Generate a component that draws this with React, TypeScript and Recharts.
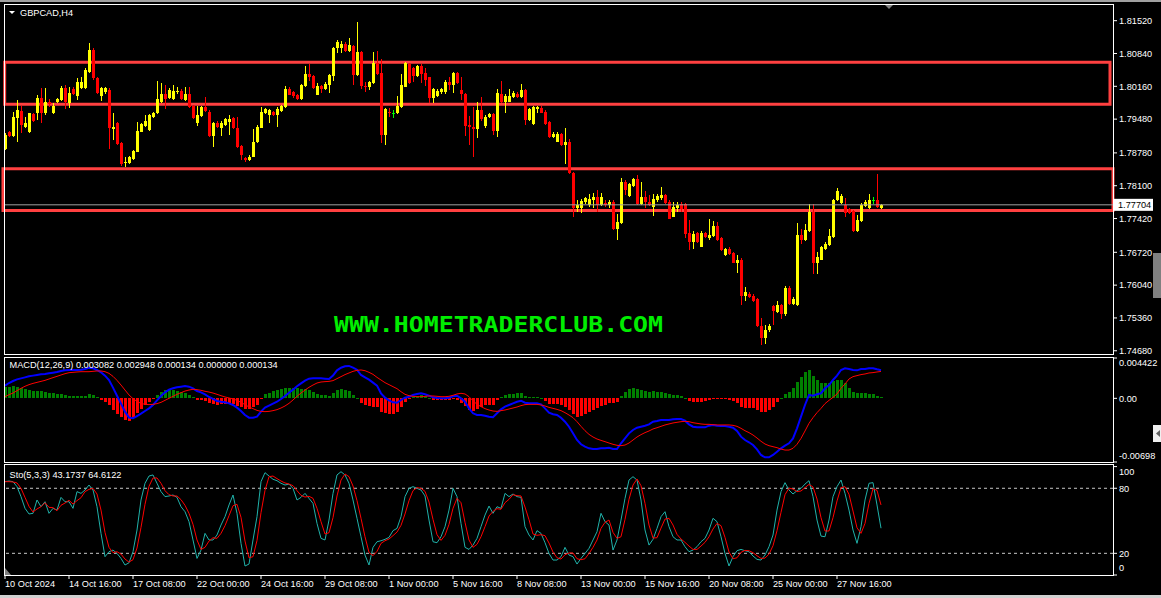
import React from 'react';
import { ComposedChart, Bar, Line, XAxis, YAxis, ReferenceLine, ReferenceArea } from 'recharts';

const W = 1161;
const FONT = "'Liberation Sans', Arial, sans-serif";

// GBPCAD H4 candles, one row = 10 bars
const openPrices = [
  1.7887, 1.7922, 1.7912, 1.7950, 1.7965, 1.7932, 1.7921, 1.7958, 1.7960, 1.7992,
  1.7960, 1.7984, 1.7960, 1.7983, 1.7988, 1.8013, 1.7981, 1.8010, 1.7995, 1.8012,
  1.8012, 1.8046, 1.8091, 1.8033, 1.7995, 1.8005, 1.8008, 1.7927, 1.7941, 1.7899,
  1.7858, 1.7858, 1.7865, 1.7880, 1.7922, 1.7934, 1.7925, 1.7952, 1.7960, 1.7984,
  1.8000, 1.7991, 1.7990, 1.8004, 1.8007, 1.7988, 1.8001, 1.7975, 1.7939, 1.7955,
  1.7974, 1.7963, 1.7912, 1.7941, 1.7930, 1.7936, 1.7943, 1.7950, 1.7929, 1.7893,
  1.7868, 1.7863, 1.7870, 1.7901, 1.7930, 1.7960, 1.7957, 1.7962, 1.7957, 1.7965,
  1.7974, 1.8010, 1.8004, 1.7999, 1.7990, 1.8017, 1.8042, 1.8037, 1.7998, 1.8017,
  1.8010, 1.8019, 1.8037, 1.8095, 1.8096, 1.8103, 1.8090, 1.8100, 1.8039, 1.8088,
  1.8017, 1.8014, 1.8022, 1.8064, 1.8044, 1.7915, 1.7963, 1.7960, 1.7960, 1.7974,
  1.8015, 1.8062, 1.8053, 1.8037, 1.8058, 1.8044, 1.8035, 1.7991, 1.7995, 1.8004,
  1.8004, 1.8024, 1.8019, 1.8043, 1.8008, 1.8001, 1.7936, 1.7932, 1.7927, 1.7967,
  1.7934, 1.7952, 1.7959, 1.7924, 1.8001, 1.7984, 1.7984, 1.7993, 1.8001, 1.7993,
  1.8008, 1.7946, 1.7938, 1.7970, 1.7972, 1.7963, 1.7943, 1.7910, 1.7901, 1.7917,
  1.7894, 1.7901, 1.7836, 1.7763, 1.7763, 1.7777, 1.7770, 1.7780, 1.7787, 1.7770,
  1.7775, 1.7770, 1.7777, 1.7720, 1.7732, 1.7818, 1.7789, 1.7809, 1.7823, 1.7773,
  1.7787, 1.7777, 1.7766, 1.7780, 1.7784, 1.7791, 1.7777, 1.7746, 1.7763, 1.7773,
  1.7773, 1.7711, 1.7694, 1.7711, 1.7684, 1.7713, 1.7701, 1.7706, 1.7727, 1.7701,
  1.7666, 1.7678, 1.7670, 1.7649, 1.7656, 1.7582, 1.7586, 1.7582, 1.7575, 1.7520,
  1.7494, 1.7511, 1.7561, 1.7549, 1.7563, 1.7545, 1.7599, 1.7565, 1.7562, 1.7708,
  1.7697, 1.7717, 1.7756, 1.7650, 1.7657, 1.7678, 1.7687, 1.7703, 1.7780, 1.7775,
  1.7770, 1.7761, 1.7758, 1.7717, 1.7737, 1.7768, 1.7763, 1.7780, 1.7780, 1.7764,
];

const highPrices = [
  1.7919, 1.7923, 1.7963, 1.7988, 1.7975, 1.7953, 1.7961, 1.7960, 1.7998, 1.8012,
  1.8012, 1.7990, 1.7981, 1.7991, 1.8017, 1.8019, 1.8014, 1.8014, 1.8033, 1.8035,
  1.8053, 1.8105, 1.8095, 1.8035, 1.8014, 1.8014, 1.8012, 1.7960, 1.7943, 1.7901,
  1.7870, 1.7872, 1.7884, 1.7943, 1.7941, 1.7957, 1.7958, 1.7963, 1.8026, 1.8022,
  1.8019, 1.8012, 1.8019, 1.8014, 1.8010, 1.8014, 1.8014, 1.7977, 1.7975, 1.7975,
  1.7993, 1.7966, 1.7943, 1.7945, 1.7944, 1.7950, 1.7957, 1.7953, 1.7953, 1.7894,
  1.7870, 1.7874, 1.7927, 1.7936, 1.7974, 1.7972, 1.7970, 1.7965, 1.7974, 1.7977,
  1.8017, 1.8014, 1.8007, 1.8001, 1.8021, 1.8058, 1.8062, 1.8039, 1.8022, 1.8019,
  1.8024, 1.8042, 1.8098, 1.8111, 1.8109, 1.8107, 1.8117, 1.8102, 1.8150, 1.8090,
  1.8024, 1.8026, 1.8088, 1.8090, 1.8072, 1.7972, 1.7972, 1.7967, 1.7996, 1.8042,
  1.8067, 1.8064, 1.8057, 1.8060, 1.8062, 1.8053, 1.8036, 1.8012, 1.8010, 1.8012,
  1.8029, 1.8035, 1.8046, 1.8046, 1.8036, 1.8003, 1.7954, 1.7974, 1.7984, 1.7993,
  1.7957, 1.7961, 1.7961, 1.8010, 1.8028, 1.8000, 1.8010, 1.8007, 1.8005, 1.8021,
  1.8010, 1.7972, 1.7975, 1.7976, 1.7975, 1.7966, 1.7945, 1.7922, 1.7922, 1.7920,
  1.7929, 1.7906, 1.7839, 1.7780, 1.7782, 1.7787, 1.7792, 1.7795, 1.7802, 1.7795,
  1.7780, 1.7780, 1.7780, 1.7751, 1.7825, 1.7822, 1.7816, 1.7825, 1.7832, 1.7817,
  1.7799, 1.7791, 1.7793, 1.7793, 1.7808, 1.7793, 1.7780, 1.7777, 1.7777, 1.7777,
  1.7775, 1.7739, 1.7717, 1.7715, 1.7717, 1.7715, 1.7742, 1.7736, 1.7734, 1.7703,
  1.7680, 1.7682, 1.7672, 1.7666, 1.7660, 1.7601, 1.7590, 1.7585, 1.7578, 1.7535,
  1.7521, 1.7523, 1.7563, 1.7572, 1.7565, 1.7602, 1.7602, 1.7580, 1.7733, 1.7720,
  1.7730, 1.7773, 1.7772, 1.7673, 1.7685, 1.7694, 1.7720, 1.7782, 1.7805, 1.7793,
  1.7784, 1.7763, 1.7760, 1.7749, 1.7775, 1.7780, 1.7793, 1.7787, 1.7834, 1.7772,
];

const lowPrices = [
  1.7885, 1.7910, 1.7910, 1.7901, 1.7919, 1.7929, 1.7919, 1.7943, 1.7946, 1.7939,
  1.7957, 1.7974, 1.7959, 1.7981, 1.7986, 1.7970, 1.7972, 1.7998, 1.7988, 1.8010,
  1.8010, 1.8044, 1.8030, 1.8001, 1.7986, 1.8001, 1.7886, 1.7905, 1.7894, 1.7851,
  1.7849, 1.7856, 1.7863, 1.7879, 1.7921, 1.7932, 1.7924, 1.7950, 1.7959, 1.7982,
  1.7970, 1.7989, 1.7988, 1.8001, 1.7988, 1.7986, 1.7972, 1.7949, 1.7934, 1.7953,
  1.7963, 1.7910, 1.7891, 1.7930, 1.7912, 1.7934, 1.7915, 1.7927, 1.7889, 1.7863,
  1.7860, 1.7861, 1.7869, 1.7899, 1.7929, 1.7958, 1.7939, 1.7954, 1.7932, 1.7963,
  1.7972, 1.7998, 1.7992, 1.7988, 1.7988, 1.8014, 1.8026, 1.8010, 1.7997, 1.8003,
  1.8008, 1.8003, 1.8028, 1.8084, 1.8084, 1.8088, 1.8088, 1.8019, 1.8037, 1.8010,
  1.8005, 1.8008, 1.8020, 1.8039, 1.7898, 1.7894, 1.7953, 1.7950, 1.7959, 1.7972,
  1.8014, 1.8021, 1.8024, 1.8036, 1.8022, 1.8017, 1.7982, 1.7982, 1.7993, 1.8001,
  1.8001, 1.8008, 1.8003, 1.8021, 1.7988, 1.7912, 1.7894, 1.7869, 1.7908, 1.7945,
  1.7929, 1.7950, 1.7915, 1.7910, 1.7982, 1.7960, 1.7983, 1.7991, 1.7991, 1.7991,
  1.7936, 1.7945, 1.7936, 1.7960, 1.7960, 1.7936, 1.7908, 1.7908, 1.7900, 1.7893,
  1.7855, 1.7834, 1.7746, 1.7756, 1.7753, 1.7773, 1.7766, 1.7763, 1.7756, 1.7768,
  1.7766, 1.7763, 1.7718, 1.7697, 1.7731, 1.7791, 1.7787, 1.7808, 1.7770, 1.7770,
  1.7763, 1.7768, 1.7748, 1.7777, 1.7780, 1.7772, 1.7740, 1.7745, 1.7756, 1.7756,
  1.7701, 1.7677, 1.7678, 1.7692, 1.7682, 1.7701, 1.7697, 1.7703, 1.7696, 1.7675,
  1.7665, 1.7666, 1.7649, 1.7630, 1.7563, 1.7572, 1.7577, 1.7570, 1.7518, 1.7480,
  1.7482, 1.7507, 1.7521, 1.7547, 1.7533, 1.7540, 1.7563, 1.7563, 1.7560, 1.7689,
  1.7696, 1.7715, 1.7628, 1.7628, 1.7656, 1.7677, 1.7685, 1.7701, 1.7779, 1.7773,
  1.7746, 1.7751, 1.7715, 1.7715, 1.7735, 1.7766, 1.7761, 1.7773, 1.7763, 1.7762,
];

const closePrices = [
  1.7915, 1.7912, 1.7953, 1.7967, 1.7936, 1.7939, 1.7960, 1.7944, 1.7992, 1.7960,
  1.7984, 1.7979, 1.7975, 1.7990, 1.8013, 1.7984, 1.8003, 1.8001, 1.8024, 1.8024,
  1.8050, 1.8091, 1.8033, 1.8003, 1.8012, 1.8012, 1.7929, 1.7932, 1.7896, 1.7856,
  1.7860, 1.7870, 1.7882, 1.7923, 1.7938, 1.7944, 1.7957, 1.7961, 1.7989, 1.8000,
  1.7990, 1.8008, 1.8007, 1.8007, 1.7990, 1.8001, 1.7974, 1.7951, 1.7957, 1.7974,
  1.7965, 1.7912, 1.7939, 1.7932, 1.7939, 1.7948, 1.7949, 1.7929, 1.7891, 1.7874,
  1.7863, 1.7870, 1.7901, 1.7932, 1.7963, 1.7970, 1.7967, 1.7957, 1.7970, 1.7975,
  1.8010, 1.7999, 1.7995, 1.7990, 1.8019, 1.8042, 1.8035, 1.8012, 1.8017, 1.8010,
  1.8021, 1.8039, 1.8095, 1.8107, 1.8103, 1.8090, 1.8102, 1.8039, 1.8088, 1.8017,
  1.8015, 1.8024, 1.8064, 1.8042, 1.7915, 1.7968, 1.7960, 1.7960, 1.7975, 1.8019,
  1.8065, 1.8022, 1.8037, 1.8058, 1.8042, 1.8029, 1.7991, 1.8010, 1.8007, 1.8010,
  1.8024, 1.8019, 1.8043, 1.8022, 1.8000, 1.7934, 1.7932, 1.7927, 1.7967, 1.7948,
  1.7953, 1.7959, 1.7924, 1.8003, 1.7984, 1.7995, 1.7996, 1.8003, 1.7993, 1.8008,
  1.7946, 1.7968, 1.7974, 1.7974, 1.7961, 1.7938, 1.7910, 1.7917, 1.7917, 1.7894,
  1.7901, 1.7836, 1.7763, 1.7770, 1.7779, 1.7784, 1.7782, 1.7787, 1.7770, 1.7787,
  1.7770, 1.7777, 1.7720, 1.7735, 1.7818, 1.7802, 1.7814, 1.7824, 1.7772, 1.7787,
  1.7777, 1.7770, 1.7782, 1.7789, 1.7791, 1.7775, 1.7742, 1.7766, 1.7771, 1.7761,
  1.7710, 1.7694, 1.7710, 1.7694, 1.7713, 1.7703, 1.7708, 1.7727, 1.7697, 1.7677,
  1.7678, 1.7668, 1.7650, 1.7656, 1.7582, 1.7590, 1.7580, 1.7572, 1.7520, 1.7494,
  1.7511, 1.7519, 1.7551, 1.7563, 1.7545, 1.7599, 1.7565, 1.7575, 1.7708, 1.7697,
  1.7718, 1.7756, 1.7650, 1.7663, 1.7682, 1.7689, 1.7706, 1.7780, 1.7800, 1.7789,
  1.7754, 1.7753, 1.7717, 1.7739, 1.7770, 1.7777, 1.7780, 1.7780, 1.7765, 1.77704,
];

// MACD(12,26,9)
const macdLine = [
  0.00139, 0.00168, 0.00190, 0.00208, 0.00219, 0.00230, 0.00241, 0.00249, 0.00256, 0.00263,
  0.00267, 0.00274, 0.00281, 0.00289, 0.00300, 0.00307, 0.00311, 0.00311, 0.00311, 0.00314,
  0.00322, 0.00336, 0.00329, 0.00311, 0.00285, 0.00249, 0.00201, 0.00117, 0.00029, -0.00058,
  -0.00146, -0.00212, -0.00219, -0.00194, -0.00168, -0.00139, -0.00110, -0.00073, -0.00022, 0.00026,
  0.00066, 0.00095, 0.00110, 0.00121, 0.00128, 0.00135, 0.00128, 0.00110, 0.00080, 0.00066,
  0.00044, 0.00015, -0.00007, -0.00029, -0.00037, -0.00044, -0.00055, -0.00073, -0.00102, -0.00139,
  -0.00183, -0.00212, -0.00212, -0.00201, -0.00146, -0.00102, -0.00080, -0.00058, -0.00037, -0.00007,
  0.00026, 0.00062, 0.00095, 0.00132, 0.00164, 0.00194, 0.00216, 0.00219, 0.00219, 0.00219,
  0.00216, 0.00212, 0.00249, 0.00307, 0.00336, 0.00351, 0.00355, 0.00336, 0.00314, 0.00256,
  0.00230, 0.00205, 0.00172, 0.00139, 0.00055, 0.00007, -0.00022, -0.00044, -0.00048, -0.00018,
  0.00007, 0.00018, 0.00037, 0.00048, 0.00055, 0.00044, 0.00029, 0.00011, 0.00004, 0.00000,
  0.00000, 0.00007, 0.00022, 0.00029, 0.00000, -0.00037, -0.00110, -0.00164, -0.00183, -0.00183,
  -0.00190, -0.00201, -0.00208, -0.00164, -0.00121, -0.00091, -0.00073, -0.00055, -0.00037, -0.00026,
  -0.00048, -0.00055, -0.00055, -0.00055, -0.00066, -0.00110, -0.00157, -0.00175, -0.00183, -0.00212,
  -0.00256, -0.00311, -0.00384, -0.00457, -0.00504, -0.00530, -0.00548, -0.00556, -0.00556, -0.00548,
  -0.00548, -0.00541, -0.00556, -0.00556, -0.00493, -0.00439, -0.00384, -0.00347, -0.00322, -0.00311,
  -0.00300, -0.00285, -0.00256, -0.00249, -0.00238, -0.00238, -0.00238, -0.00230, -0.00227, -0.00227,
  -0.00245, -0.00285, -0.00311, -0.00318, -0.00318, -0.00318, -0.00300, -0.00292, -0.00300, -0.00303,
  -0.00303, -0.00311, -0.00322, -0.00358, -0.00420, -0.00457, -0.00482, -0.00512, -0.00559, -0.00621,
  -0.00647, -0.00647, -0.00621, -0.00585, -0.00548, -0.00519, -0.00493, -0.00439, -0.00329, -0.00201,
  -0.00073, 0.00037, 0.00029, 0.00044, 0.00055, 0.00110, 0.00146, 0.00201, 0.00249, 0.00311,
  0.00329, 0.00322, 0.00311, 0.00307, 0.00322, 0.00322, 0.00329, 0.00329, 0.00318, 0.003082,
];

const signalLine = [
  0.00018, 0.00040, 0.00058, 0.00084, 0.00110, 0.00132, 0.00150, 0.00164, 0.00175, 0.00186,
  0.00197, 0.00212, 0.00227, 0.00241, 0.00256, 0.00270, 0.00281, 0.00285, 0.00289, 0.00292,
  0.00292, 0.00292, 0.00296, 0.00300, 0.00300, 0.00292, 0.00274, 0.00241, 0.00197, 0.00146,
  0.00091, 0.00037, -0.00004, -0.00033, -0.00055, -0.00066, -0.00069, -0.00066, -0.00058, -0.00044,
  -0.00022, 0.00000, 0.00022, 0.00044, 0.00062, 0.00080, 0.00091, 0.00099, 0.00095, 0.00088,
  0.00077, 0.00069, 0.00058, 0.00044, 0.00029, 0.00015, 0.00004, -0.00007, -0.00022, -0.00044,
  -0.00069, -0.00095, -0.00113, -0.00132, -0.00143, -0.00146, -0.00143, -0.00135, -0.00124, -0.00106,
  -0.00084, -0.00055, -0.00018, 0.00022, 0.00058, 0.00091, 0.00121, 0.00146, 0.00168, 0.00179,
  0.00183, 0.00186, 0.00194, 0.00216, 0.00238, 0.00260, 0.00278, 0.00296, 0.00307, 0.00311,
  0.00303, 0.00285, 0.00263, 0.00230, 0.00201, 0.00172, 0.00150, 0.00128, 0.00106, 0.00073,
  0.00044, 0.00029, 0.00022, 0.00018, 0.00018, 0.00022, 0.00026, 0.00026, 0.00022, 0.00018,
  0.00018, 0.00022, 0.00033, 0.00048, 0.00055, 0.00048, 0.00018, -0.00026, -0.00066, -0.00091,
  -0.00113, -0.00128, -0.00139, -0.00143, -0.00135, -0.00128, -0.00117, -0.00106, -0.00095, -0.00080,
  -0.00069, -0.00066, -0.00066, -0.00066, -0.00073, -0.00084, -0.00099, -0.00110, -0.00121, -0.00135,
  -0.00157, -0.00183, -0.00212, -0.00256, -0.00307, -0.00355, -0.00395, -0.00424, -0.00446, -0.00461,
  -0.00475, -0.00490, -0.00504, -0.00515, -0.00519, -0.00512, -0.00490, -0.00457, -0.00424, -0.00398,
  -0.00376, -0.00358, -0.00336, -0.00322, -0.00307, -0.00292, -0.00281, -0.00270, -0.00263, -0.00256,
  -0.00252, -0.00256, -0.00267, -0.00274, -0.00281, -0.00285, -0.00285, -0.00289, -0.00292, -0.00292,
  -0.00292, -0.00292, -0.00296, -0.00307, -0.00329, -0.00355, -0.00376, -0.00402, -0.00435, -0.00471,
  -0.00501, -0.00519, -0.00530, -0.00541, -0.00556, -0.00567, -0.00567, -0.00548, -0.00504, -0.00439,
  -0.00358, -0.00274, -0.00212, -0.00157, -0.00110, -0.00058, -0.00022, 0.00011, 0.00048, 0.00110,
  0.00157, 0.00212, 0.00238, 0.00249, 0.00260, 0.00267, 0.00278, 0.00282, 0.00289, 0.002948,
];

// Stochastic(5,3,3)
const stochK = [
  86.1, 86.7, 86.1, 81.5, 72.3, 61.5, 56.3, 56.9, 69.2, 63.0,
  67.6, 56.9, 61.5, 59.9, 71.6, 67.6, 67.6, 61.5, 76.9, 75.3,
  78.4, 83.0, 78.4, 63.0, 38.4, 16.9, 21.5, 23.0, 19.9, 15.3,
  9.2, 11.3, 21.5, 41.5, 69.2, 84.6, 91.3, 92.3, 84.6, 76.9,
  72.3, 72.9, 73.8, 71.6, 63.0, 58.4, 49.2, 32.3, 15.3, 23.0,
  38.4, 32.3, 32.3, 36.9, 46.1, 53.8, 64.6, 73.8, 56.9, 29.2,
  8.3, 10.1, 32.3, 53.8, 86.1, 94.4, 91.3, 88.3, 87.0, 84.6,
  83.0, 83.9, 79.9, 69.2, 71.6, 75.3, 70.7, 66.1, 47.6, 33.8,
  32.3, 50.7, 75.3, 92.3, 95.3, 92.3, 84.6, 69.2, 52.3, 35.3,
  18.4, 9.2, 25.5, 30.7, 31.6, 32.9, 34.7, 40.9, 43.0, 53.8,
  72.3, 79.9, 81.5, 79.9, 78.4, 72.9, 50.7, 30.7, 29.8, 35.3,
  44.6, 59.9, 79.9, 72.3, 47.6, 25.5, 23.6, 27.6, 33.8, 44.6,
  55.3, 63.6, 56.9, 63.0, 61.5, 75.3, 72.3, 74.7, 72.3, 71.6,
  44.6, 36.9, 32.3, 40.9, 38.4, 29.8, 19.9, 13.8, 13.8, 16.9,
  25.5, 18.4, 16.9, 10.1, 15.3, 19.9, 24.6, 32.3, 39.9, 56.9,
  49.2, 46.1, 23.0, 32.3, 50.7, 70.7, 87.6, 90.7, 87.6, 69.2,
  41.5, 27.6, 32.9, 43.0, 53.8, 58.4, 44.6, 35.3, 32.3, 32.3,
  26.1, 21.5, 23.0, 26.1, 30.7, 33.8, 41.5, 52.3, 49.2, 35.3,
  19.9, 8.3, 16.9, 22.4, 23.6, 22.4, 21.5, 17.5, 14.4, 13.8,
  18.4, 26.1, 36.9, 59.9, 76.9, 85.2, 78.4, 74.7, 77.8, 79.9,
  83.9, 87.0, 72.3, 50.7, 35.9, 35.3, 50.7, 72.3, 81.5, 87.6,
  75.3, 59.9, 41.5, 29.2, 44.6, 69.2, 84.6, 85.2, 64.6, 43.1737,
];

const stochD = [
  86.1, 86.1, 85.8, 84.9, 79.9, 71.6, 63.3, 58.1, 60.9, 63.0,
  66.7, 62.4, 62.1, 59.3, 64.3, 66.4, 68.9, 65.5, 68.6, 71.3,
  76.9, 79.0, 79.9, 74.7, 59.9, 39.3, 25.5, 20.6, 21.5, 19.3,
  14.7, 11.9, 14.1, 24.9, 43.9, 65.2, 81.8, 89.5, 89.5, 84.6,
  77.8, 74.1, 72.9, 72.9, 69.5, 64.3, 56.9, 46.7, 32.3, 23.6,
  25.5, 31.3, 34.4, 33.8, 38.4, 45.5, 54.7, 63.9, 65.2, 53.2,
  31.3, 15.9, 16.9, 31.9, 57.5, 78.1, 90.7, 91.3, 88.9, 86.7,
  84.9, 83.9, 82.4, 77.8, 73.5, 71.9, 72.6, 70.7, 61.5, 49.2,
  37.8, 39.0, 52.9, 72.9, 87.6, 93.2, 90.7, 82.1, 68.6, 52.3,
  35.3, 20.9, 17.8, 21.8, 29.2, 31.6, 33.2, 36.3, 39.6, 45.8,
  56.3, 68.6, 77.8, 80.6, 79.9, 77.2, 67.3, 51.3, 37.2, 31.9,
  36.6, 46.7, 61.5, 70.7, 66.7, 48.6, 32.3, 25.5, 28.3, 35.3,
  44.6, 54.4, 58.7, 61.2, 60.6, 66.7, 69.8, 74.1, 73.2, 72.9,
  62.7, 51.0, 37.8, 36.6, 37.2, 36.3, 29.5, 21.2, 15.9, 14.7,
  18.7, 20.3, 20.3, 15.0, 14.1, 15.0, 19.9, 25.5, 32.3, 43.0,
  48.6, 50.7, 39.3, 33.8, 35.3, 51.3, 69.8, 83.0, 88.6, 82.4,
  66.1, 46.1, 34.1, 34.4, 43.3, 51.6, 52.3, 46.1, 37.5, 33.2,
  30.1, 26.7, 23.6, 23.6, 26.7, 30.1, 35.3, 42.4, 47.6, 45.5,
  34.7, 21.2, 15.0, 15.9, 20.9, 22.7, 22.4, 20.6, 17.8, 15.3,
  15.6, 19.3, 27.0, 40.9, 57.8, 74.1, 80.2, 79.3, 76.9, 77.5,
  80.6, 83.6, 81.2, 70.1, 52.9, 40.6, 40.6, 52.9, 68.3, 80.6,
  81.5, 74.4, 59.0, 43.6, 38.4, 47.6, 66.1, 79.6, 78.1, 64.6122,
];

const priceTicks = [1.8152, 1.8084, 1.8016, 1.7948, 1.7878, 1.781, 1.7742, 1.7672, 1.7604, 1.7536, 1.7468];
const macdTicks = [0.004422, 0, -0.00698];
const macdTickLabels = ['0.004422', '0.00', '-0.00698'];
const stochTicks = [100, 80, 20, 0];
const stochLevels = [80, 20];

const timeTickBars = [0, 16, 32, 48, 64, 80, 96, 112, 128, 144, 160, 176, 192, 208];
const timeTickLabels = [
  '10 Oct 2024', '14 Oct 16:00', '17 Oct 08:00', '22 Oct 00:00', '24 Oct 16:00', '29 Oct 08:00', '1 Nov 00:00',
  '5 Nov 16:00', '8 Nov 08:00', '13 Nov 00:00', '15 Nov 16:00', '20 Nov 08:00', '25 Nov 00:00', '27 Nov 16:00',
];

// supply / demand boxes drawn by hand on the chart (bar index, price)
const zoneFrom = [-0.08, -0.5];
const zoneTo = [276.25, 277];
const zoneTop = [1.80658, 1.78453];
const zoneBottom = [1.79787, 1.77587];

const PRICE_DOMAIN = [1.74592, 1.81845];
const MACD_DOMAIN = [-0.00698, 0.004422];
const X_DOMAIN = [-0.25, 277];

const bars = closePrices.map((c, i) => ({
  i,
  open: openPrices[i],
  high: highPrices[i],
  low: lowPrices[i],
  close: c,
  range: [lowPrices[i], highPrices[i]],
  macd: macdLine[i],
  signal: signalLine[i],
  hist: macdLine[i] - signalLine[i],
  k: stochK[i],
  d: stochD[i],
}));

const last = bars[bars.length - 1];

const Candle = (props: any) => {
  const { x, y, width, height, payload } = props;
  if (x == null || payload == null) return null;
  const { open, close, high, low } = payload;
  const top = Math.min(y, y + height);
  const h = Math.abs(height);
  const k = high > low ? h / (high - low) : 0;
  const bodyTop = top + (high - Math.max(open, close)) * k;
  const bodyH = Math.max(1, Math.abs(open - close) * k);
  const color = close > open ? '#ffff00' : close < open ? '#ff0000' : '#00ff00';
  const cx = Math.round(x + width / 2);
  return (
    <g shapeRendering="crispEdges">
      <rect x={cx} y={top} width={1} height={Math.max(1, h)} fill={color} />
      <rect x={cx - 1} y={bodyTop} width={3} height={bodyH} fill={color} />
    </g>
  );
};

const HistBar = (props: any) => {
  const { x, y, width, height, payload } = props;
  if (x == null || payload == null) return null;
  const cx = Math.round(x + width / 2);
  const top = Math.min(y, y + height);
  const h = Math.max(1, Math.abs(height));
  return (
    <rect x={cx - 1} y={top} width={3} height={h} fill={payload.hist >= 0 ? '#008000' : '#ff0000'} shapeRendering="crispEdges" />
  );
};

const PriceTag = (props: any) => {
  const vb = props.viewBox;
  if (!vb) return null;
  const x = vb.x + vb.width + 1;
  return (
    <g>
      <rect x={x} y={vb.y - 6} width={39} height={12} fill="#ffffff" />
      <text x={x + 4} y={vb.y} dy="0.35em" fill="#000" fontSize={9.2} fontFamily={FONT}>
        {last.close.toFixed(5)}
      </text>
    </g>
  );
};

const edgeTick = (lo: number, hi: number, fmt: (v: number) => string, upShift: number, downShift: number) =>
  (props: any) => {
    const { x, y, payload } = props;
    const v = payload.value;
    const dy = v === hi ? downShift : v === lo ? -upShift : 0;
    return (
      <text x={x} y={y + dy} dy="0.35em" textAnchor="start" fill="#fff" fontSize={9.2} fontFamily={FONT}>
        {fmt(v)}
      </text>
    );
  };

const MacdTick = edgeTick(MACD_DOMAIN[0], MACD_DOMAIN[1], (v) => macdTickLabels[macdTicks.indexOf(v)], 6, 5);
const StochTick = edgeTick(0, 100, (v) => String(v), 7, 5.5);

const TimeTick = (props: any) => {
  const { x, y, payload } = props;
  const label = timeTickLabels[timeTickBars.indexOf(payload.value)];
  return (
    <text x={x} y={y} dy={7} textAnchor="start" fill="#fff" fontSize={9.2} fontFamily={FONT}>
      {label}
    </text>
  );
};

const yTickStyle = { fill: '#fff', fontSize: 9.2, fontFamily: FONT };

export default function App() {
  const macdTitle = `MACD(12,26,9) ${last.macd.toFixed(6)} ${last.signal.toFixed(6)} ${last.hist.toFixed(6)} ${(0).toFixed(6)} ${last.hist.toFixed(6)}`;
  const stochTitle = `Sto(5,3,3) ${last.k.toFixed(4)} ${last.d.toFixed(4)}`;

  return (
    <div style={{ position: 'absolute', left: 0, top: 0, width: W, height: 598, background: '#000', overflow: 'hidden', fontFamily: FONT }}>
      <div style={{ position: 'absolute', left: 0, top: 0 }}>
        <ComposedChart width={W} height={356} data={bars} margin={{ top: 5, right: 0, bottom: 1, left: 4 }}>
          <XAxis type="number" dataKey="i" domain={X_DOMAIN} allowDataOverflow hide />
          <YAxis
            orientation="right"
            width={48}
            domain={PRICE_DOMAIN}
            allowDataOverflow
            ticks={priceTicks}
            interval={0}
            tickFormatter={(v: number) => v.toFixed(5)}
            tick={yTickStyle}
            tickSize={4}
            tickMargin={2}
            axisLine={false}
            tickLine={{ stroke: '#fff' }}
          />
          {zoneTop.map((t, z) => (
            <ReferenceArea
              key={z}
              x1={zoneFrom[z]}
              x2={zoneTo[z]}
              y1={zoneBottom[z]}
              y2={t}
              ifOverflow="visible"
              fill="none"
              fillOpacity={0}
              stroke="#ff4040"
              strokeWidth={3}
            />
          ))}
          <ReferenceLine y={last.close} stroke="#a0a0a0" ifOverflow="visible" label={<PriceTag />} />
          <Bar dataKey="range" shape={<Candle />} barSize={3} isAnimationActive={false} />
        </ComposedChart>
      </div>

      <div style={{ position: 'absolute', left: 0, top: 356 }}>
        <ComposedChart width={W} height={108} data={bars} margin={{ top: 2, right: 0, bottom: 2, left: 4 }}>
          <XAxis type="number" dataKey="i" domain={X_DOMAIN} allowDataOverflow hide />
          <YAxis
            orientation="right"
            width={48}
            domain={MACD_DOMAIN}
            allowDataOverflow
            ticks={macdTicks}
            interval={0}
            tick={MacdTick}
            tickSize={4}
            tickMargin={2}
            axisLine={false}
            tickLine={{ stroke: '#fff' }}
          />
          <Bar dataKey="hist" shape={<HistBar />} barSize={3} isAnimationActive={false} />
          <Line type="linear" dataKey="macd" stroke="#0000ff" strokeWidth={2} dot={false} activeDot={false} isAnimationActive={false} />
          <Line type="linear" dataKey="signal" stroke="#ff0000" strokeWidth={1} dot={false} activeDot={false} isAnimationActive={false} />
        </ComposedChart>
      </div>

      <div style={{ position: 'absolute', left: 0, top: 464 }}>
        <ComposedChart width={W} height={134} data={bars} margin={{ top: 2.6, right: 0, bottom: 0, left: 4 }}>
          <XAxis
            type="number"
            dataKey="i"
            domain={X_DOMAIN}
            allowDataOverflow
            ticks={timeTickBars}
            interval={0}
            height={23}
            tick={<TimeTick />}
            tickSize={4}
            tickMargin={1}
            axisLine={false}
            tickLine={{ stroke: '#fff' }}
          />
          <YAxis
            orientation="right"
            width={48}
            domain={[0, 100]}
            allowDataOverflow
            ticks={stochTicks}
            interval={0}
            tick={StochTick}
            tickSize={4}
            tickMargin={2}
            axisLine={false}
            tickLine={{ stroke: '#fff' }}
          />
          {stochLevels.map((lv) => (
            <ReferenceLine key={lv} y={lv} stroke="#c8c8c8" strokeDasharray="3 3" />
          ))}
          <Line type="linear" dataKey="k" stroke="#20b2aa" strokeWidth={1} dot={false} activeDot={false} isAnimationActive={false} />
          <Line type="linear" dataKey="d" stroke="#ff0000" strokeWidth={1} dot={false} activeDot={false} isAnimationActive={false} />
        </ComposedChart>
      </div>

      <svg width={W} height={598} style={{ position: 'absolute', left: 0, top: 0, pointerEvents: 'none' }}>
        <rect x={0} y={0} width={W} height={2} fill="#a0a0a0" />
        <rect x={4.5} y={4.5} width={1109} height={350} fill="none" stroke="#fff" />
        <rect x={4.5} y={357.5} width={1109} height={105} fill="none" stroke="#fff" />
        <rect x={4.5} y={464.5} width={1109} height={111} fill="none" stroke="#fff" />
        <polygon points="9,11 15,11 12,14" fill="#fff" />
        <text x={20} y={16} fill="#fff" fontSize={9.2} fontFamily={FONT}>GBPCAD,H4</text>
        <polygon points="885,5 893,5 889,9" fill="#808080" />
        <text x={9.5} y={368} fill="#fff" fontSize={9.2} fontFamily={FONT}>{macdTitle}</text>
        <text x={9.5} y={478} fill="#fff" fontSize={9.2} fontFamily={FONT}>{stochTitle}</text>
        <polygon points="5,568 5,575 11,575" fill="#808080" />
        <text
          x={334}
          y={331.5}
          fill="#00ee00"
          fontSize={21}
          fontWeight="bold"
          fontFamily="'DejaVu Sans Mono', monospace"
          textLength={329}
          lengthAdjust="spacingAndGlyphs"
        >
          WWW.HOMETRADERCLUB.COM
        </text>
        <rect x={1153} y={253} width={8} height={45} fill="#808080" />
        <rect x={1153} y={425} width={8} height={17} fill="#f0f0f0" />
        <polygon points="1160,430 1160,437 1156,433.5" fill="#606060" />
        <rect x={0} y={595} width={W} height={3} fill="#d0d0d0" />
      </svg>
    </div>
  );
}
